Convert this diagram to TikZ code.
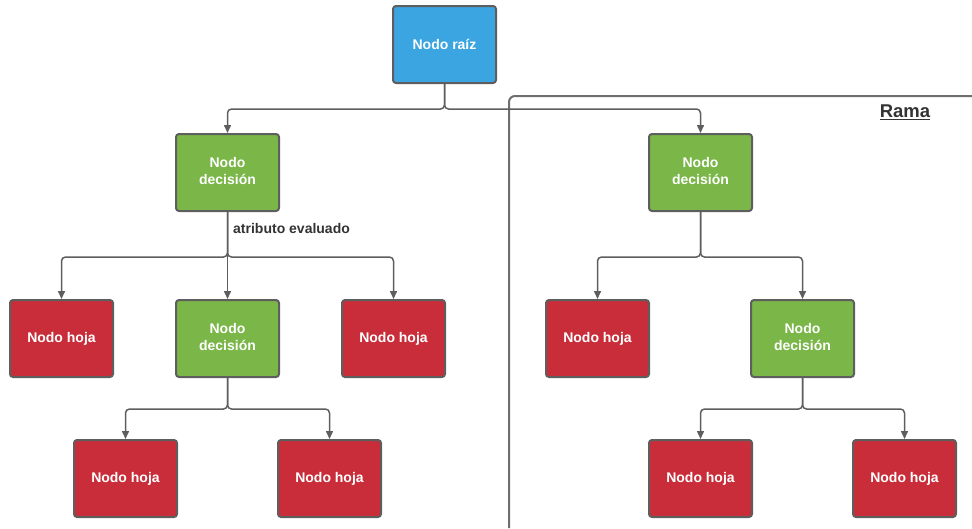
\documentclass[tikz,border=0pt]{standalone}
\usepackage{fontspec}
\setmainfont{Liberation Sans}
\usetikzlibrary{arrows.meta}
\definecolor{rootblue}{HTML}{3AA5E0}
\definecolor{decgreen}{HTML}{7AB648}
\definecolor{leafred}{HTML}{C92D39}
\definecolor{edgegray}{HTML}{5E5E5E}
\definecolor{txtdark}{HTML}{333333}
\newcommand{\twoline}[2]{\raisebox{3pt}{\begin{tabular}{@{}c@{}}#1\\#2\end{tabular}}}
\tikzset{
  box/.style={draw=edgegray, line width=2pt, rounded corners=3pt, minimum width=103pt, minimum height=77pt, inner sep=0pt, text=white, align=center, font=\bfseries\fontsize{14}{17}\selectfont},
  rootbox/.style={box, fill=rootblue},
  decbox/.style={box, fill=decgreen},
  leafbox/.style={box, fill=leafred},
  conn/.style={draw=edgegray, line width=1.5pt, rounded corners=4pt, -{Triangle[length=8pt,width=7pt]}},
}
\begin{document}
\begin{tikzpicture}[x=1pt,y=-1pt]
\useasboundingbox (0,0) rectangle (972,528);
% Rama region
\draw[edgegray!90, line width=2pt, rounded corners=6pt] (509,528) -- (509,96) -- (972,96);
\node[font=\bfseries\fontsize{18.5}{22}\selectfont, text=txtdark] (rama) at (905,112) {\underline{Rama}};

\node[rootbox] (root) at (444.5,44.5) {Nodo raíz};
\node[decbox] (d1) at (227.5,172.5) {\twoline{Nodo}{decisión}};
\node[decbox] (d2) at (700.5,172.5) {\twoline{Nodo}{decisión}};
\node[leafbox] (l1) at (61.5,338.5) {Nodo hoja};
\node[decbox] (d3) at (227.5,338.5) {\twoline{Nodo}{decisión}};
\node[leafbox] (l2) at (393.5,338.5) {Nodo hoja};
\node[leafbox] (l3) at (597.5,338.5) {Nodo hoja};
\node[decbox] (d4) at (802.5,338.5) {\twoline{Nodo}{decisión}};
\node[leafbox] (l4) at (125.5,478.5) {Nodo hoja};
\node[leafbox] (l5) at (329.5,478.5) {Nodo hoja};
\node[leafbox] (l6) at (700.5,478.5) {Nodo hoja};
\node[leafbox] (l7) at (904.5,478.5) {Nodo hoja};

\node[anchor=west, inner sep=0pt, font=\bfseries\fontsize{14}{17}\selectfont, text=txtdark] (lab) at (233,228) {atributo evaluado};

\draw[conn] (root.south) -- ++(0,25) -| (d1.north);
\draw[conn] (root.south) -- ++(0,25) -| (d2.north);
\draw[conn] (d1.south) -- ++(0,45) -| (l1.north);
\draw[conn] (d1.south) -- (d3.north);
\draw[conn] (d1.south) -- ++(0,45) -| (l2.north);
\draw[conn] (d3.south) -- ++(0,31) -| (l4.north);
\draw[conn] (d3.south) -- ++(0,31) -| (l5.north);
\draw[conn] (d2.south) -- ++(0,45) -| (l3.north);
\draw[conn] (d2.south) -- ++(0,45) -| (d4.north);
\draw[conn] (d4.south) -- ++(0,31) -| (l6.north);
\draw[conn] (d4.south) -- ++(0,31) -| (l7.north);
\end{tikzpicture}
\end{document}
